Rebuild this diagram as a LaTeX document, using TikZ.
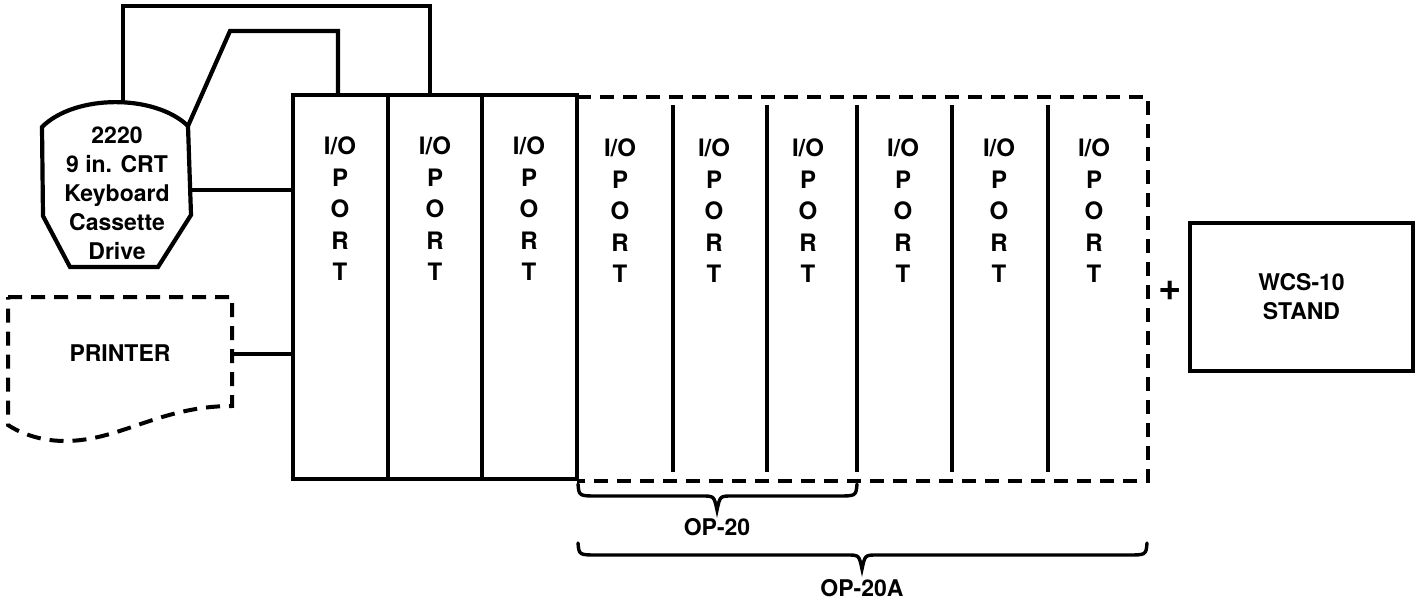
\documentclass[tikz,border=0pt]{standalone}
\usepackage{fontspec}
\setmainfont{TeX Gyre Heros}
\begin{document}
\begin{tikzpicture}[x=1pt,y=-1pt,
  lbl/.style={font=\bfseries\fontsize{23}{29}\selectfont, align=center, inner sep=0pt},
  porttxt/.style={font=\bfseries\fontsize{24}{31.5}\selectfont, align=center, inner sep=0pt, anchor=north},
  wire/.style={line width=4.2pt, line join=miter},
  thinwire/.style={line width=3.4pt},
  dashline/.style={line width=4pt, dash pattern=on 14pt off 9pt},
  brace/.style={line width=3.4pt, line cap=round}
]
\useasboundingbox (0,0) rectangle (1423,604);

% ---- CRT unit ----
\coordinate (crtTL) at (42,127);
\coordinate (crtTR) at (188,126);
\coordinate (crtTop) at (123,101);
\coordinate (crtR) at (190,190);
\draw[wire] (crtTL) .. controls (75,94) and (155,94) .. (crtTR) -- (191,215) -- (158,267) -- (70,267) -- (43,216) -- cycle;
\node[lbl] (crt) at (117,193) {2220\\9 in. CRT\\Keyboard\\Cassette\\Drive};

% ---- I/O solid box ----
\node[draw, wire, minimum width=284pt, minimum height=384pt, inner sep=0pt, outer sep=0pt] (iobox) at (435,287) {};
\draw[wire] (388,95) -- (388,479);
\draw[wire] (482,95) -- (482,479);

% ---- connection points on the box ----
\coordinate (inA) at (430,95);
\coordinate (inB) at (338,95);
\coordinate (inC) at (293,190);
\coordinate (inD) at (293,354);

% ---- wires from CRT ----
\coordinate (w1a) at (123,6);
\coordinate (w1b) at (430,6);
\draw[wire] (crtTop) -- (w1a) -- (w1b) -- (inA);
\coordinate (w2a) at (230,31);
\coordinate (w2b) at (338,31);
\draw[wire] (crtTR) -- (w2a) -- (w2b) -- (inB);
\draw[wire] (crtR) -- (inC);

% ---- printer ----
\draw[dashline] (8,297) -- (232,297) -- (232,406) .. controls (160,406) and (120,441) .. (65,441) .. controls (40,441) and (20,433) .. (8,425) -- cycle;
\node[lbl] (printer) at (120,353) {PRINTER};
\coordinate (prR) at (232,354);
\draw[wire] (prR) -- (inD);

% ---- dashed expansion box ----
\draw[dashline] (577,97) -- (1148,97) -- (1148,481) -- (577,481);
\foreach \x in {673,767,857,952,1048}
  \draw[thinwire] (\x,105) -- (\x,472);

% ---- port labels ----
\foreach \x/\n in {340/1,435/2,529/3}
  \node[porttxt] (p\n) at (\x,137) {I/O\\P\\O\\R\\T};
\foreach \x/\n in {620/4,714/5,808/6,903/7,999/8,1094/9}
  \node[porttxt] (p\n) at (\x,139) {I/O\\P\\O\\R\\T};

% ---- plus and stand ----
\node[font=\bfseries\fontsize{40}{40}\selectfont, inner sep=0pt] (plus) at (1170,291) {+};
\node[draw, wire, lbl, minimum width=223pt, minimum height=148pt] (wcs) at (1301.5,297) {WCS-10\\STAND};

% ---- braces ----
\draw[brace] (578,484) .. controls (579,496) .. (598,496) -- (702,496) .. controls (714,496) .. (717,510) .. controls (720,496) .. (732,496) -- (837,496) .. controls (856,496) .. (857,484);
\node[lbl] (op20) at (717,527) {OP-20};
\draw[brace] (578,543) .. controls (579,555) .. (598,555) -- (847,555) .. controls (859,555) .. (862,569) .. controls (865,555) .. (877,555) -- (1127,555) .. controls (1146,555) .. (1147,543);
\node[lbl] (op20a) at (862,588) {OP-20A};
\end{tikzpicture}
\end{document}
